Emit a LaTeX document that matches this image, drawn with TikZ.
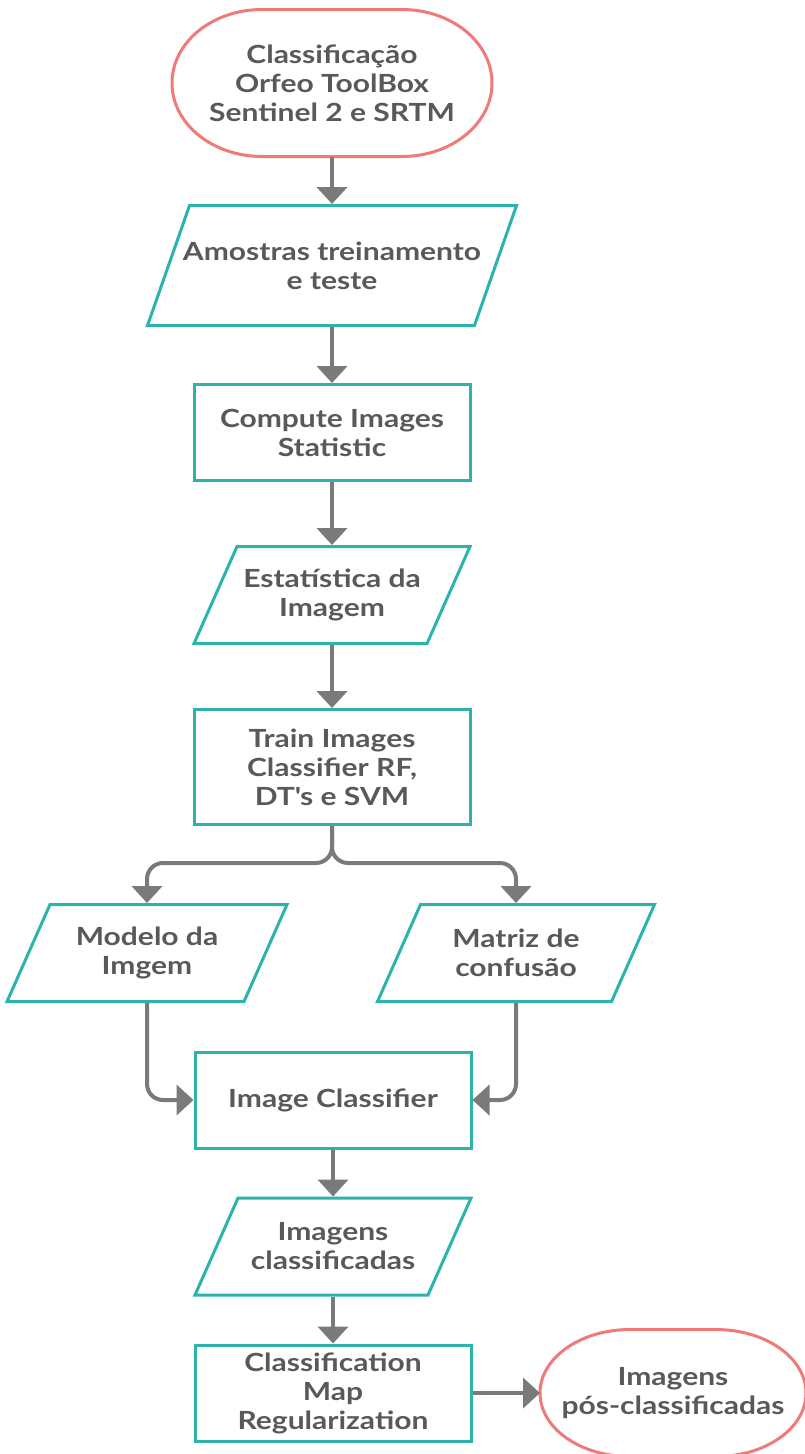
\documentclass[tikz,border=0pt]{standalone}
\usepackage{fontspec}
\setmainfont{Lato}[FakeStretch=1.2]
\usetikzlibrary{arrows.meta,positioning,shapes.geometric}

\definecolor{flowteal}{HTML}{2BB3AC}
\definecolor{flowred}{HTML}{F07A78}
\definecolor{flowgray}{HTML}{7A7A7A}
\definecolor{txtgray}{HTML}{595959}

% stadium outline round a terminal node: node, x radius, y radius
\newcommand{\termframe}[3]{%
  \draw[draw=flowred,line width=3pt] ([xshift=#2]#1.north west) -- ([xshift=-#2]#1.north east)
    arc[start angle=90,end angle=-90,x radius=#2,y radius=#3]
    -- ([xshift=#2]#1.south west)
    arc[start angle=270,end angle=90,x radius=#2,y radius=#3] -- cycle;}

\begin{document}
\begin{tikzpicture}[
  x=1pt,y=1pt,
  font=\fontsize{25}{29}\selectfont\bfseries,
  text=txtgray,
  >={Triangle[length=17pt,width=30pt]},
  every label/.append style={align=center,inner sep=0pt,text=txtgray},
  terminal/.style={rectangle,align=center,inner sep=0pt,outer sep=0pt},
  process/.style={draw=flowteal,line width=3pt,minimum width=276pt,minimum height=96pt,align=center,inner sep=0pt},
  data/.style={draw=flowteal,line width=3pt,trapezium,trapezium left angle=66.1,trapezium right angle=113.9,trapezium stretches body=true,minimum width=278pt,inner xsep=0pt,inner ysep=48.5pt},
  flow/.style={->,draw=flowgray,line width=4pt,rounded corners=16pt}
]
\useasboundingbox (0,0) rectangle (804,-1454);

% ===== Main Column =====
\node[terminal,minimum width=320pt,minimum height=147pt] (start) at (332,-83) {Classificação\\Orfeo ToolBox\\Sentinel 2 e SRTM};
\node[data,below=47.5pt of start,trapezium left angle=70.7,trapezium right angle=109.3,minimum width=369pt,inner ysep=60pt,label={center:Amostras treinamento\\e teste}] (samples) {};
\node[process,below=56pt of samples] (stats) {Compute Images\\Statistic};
\node[data,below=63pt of stats,minimum width=276pt,label={center:Estatística da\\Imagem}] (statimg) {};
\node[process,below=63pt of statimg,minimum height=115pt] (train) {Train Images\\Classifier RF,\\DT\textquotesingle s e SVM};

% ===== Branches =====
\node[data,below=77pt of train,xshift=-185pt,minimum width=280pt,label={center:Modelo da\\Imgem}] (model) {};
\node[data,below=77pt of train,xshift=184pt,minimum width=277pt,label={center:Matriz de\\confusão}] (matrix) {};
\node[process] (classifier) at (333,-1100) {Image Classifier};

% ===== Output =====
\node[data,below=47pt of classifier,minimum width=276pt,label={center:Imagens\\classificadas}] (classimg) {};
\node[process,below=47pt of classimg] (regul) {Classification\\Map\\Regularization};
\node[terminal,right=67.5pt of regul,minimum width=266pt,minimum height=127pt] (post) {Imagens\\pós-classificadas};

\termframe{start}{90pt}{73.5pt}
\termframe{post}{90pt}{63.5pt}

\coordinate (split) at (332,-863);

% ===== Flow =====
\draw[flow] (start) -- (samples);
\draw[flow] (samples) -- (stats);
\draw[flow] (stats) -- (statimg);
\draw[flow] (statimg) -- (train);
\draw[flow] (train) -- (split) -| (model);
\draw[flow] (train) -- (split) -| (matrix);
\draw[flow] (model) |- (classifier);
\draw[flow] (matrix) |- (classifier);
\draw[flow] (classifier) -- (classimg);
\draw[flow] (classimg) -- (regul);
\draw[flow] (regul) -- (post);

\end{tikzpicture}
\end{document}
